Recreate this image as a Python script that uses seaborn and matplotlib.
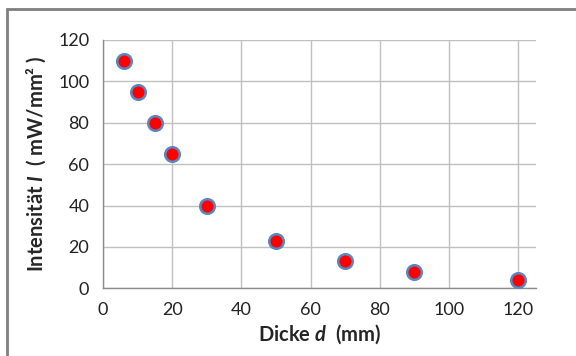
import matplotlib
matplotlib.use("Agg")
import matplotlib.pyplot as plt
import seaborn as sns
import pandas as pd
from matplotlib.patches import Rectangle

# Messwerte: Dicke d (mm) und Intensität I (mW/mm²)
dicke = [6, 10, 15, 20, 30, 50, 70, 90, 120]
intensitaet = [110, 95, 80, 65, 40, 23, 13, 8, 4]
x_ticks = [0, 20, 40, 60, 80, 100, 120]
y_ticks = [0, 20, 40, 60, 80, 100, 120]

dados = pd.DataFrame({"Dicke": dicke, "Intensitaet": intensitaet})

sns.set_style("white")
plt.rcParams["font.family"] = ["Lato", "DejaVu Sans"]
plt.rcParams["mathtext.fontset"] = "custom"
plt.rcParams["mathtext.it"] = "Lato:bold:italic"
plt.rcParams["mathtext.rm"] = "Lato:bold"

fig = plt.figure(figsize=(5.76, 3.56), dpi=100)
ax = fig.add_axes([0.179, 0.19, 0.752, 0.698])

sns.scatterplot(data=dados, x="Dicke", y="Intensitaet", ax=ax, s=110,
                color="#FF0000", edgecolor="#5B87C0", linewidth=1.8, zorder=3)

ax.set_xlim(0, 125.3)
ax.set_ylim(0, 120)
ax.set_xticks(x_ticks)
ax.set_yticks(y_ticks)
ax.grid(True, color="#C0C0C0", linewidth=1.0)
ax.set_axisbelow(True)

for side in ["top", "right"]:
    ax.spines[side].set_visible(False)
for side in ["left", "bottom"]:
    ax.spines[side].set_color("#8C8C8C")
    ax.spines[side].set_linewidth(1.0)

ax.tick_params(axis="both", direction="out", length=5, width=1.0,
               color="#8C8C8C", labelsize=13, labelcolor="#222222", pad=5)

ax.set_xlabel("Dicke $d$  (mm)", fontsize=14.5, fontweight="bold", labelpad=3)
ax.set_ylabel("Intensität $I$  ( mW/mm² )", fontsize=14.5, fontweight="bold", labelpad=7)

# Rahmen des Diagrammbereichs
fig.patches.append(Rectangle((7 / 576, -0.1), 1.2, 1 - 9 / 356 + 0.1, transform=fig.transFigure,
                             fill=False, edgecolor="#7F7F7F", linewidth=2.0))

fig.savefig("out.png", dpi=100)
